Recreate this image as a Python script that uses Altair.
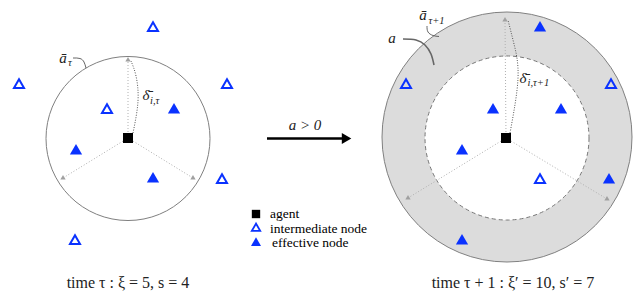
import altair as alt
import pandas as pd

# ---- diagram values (pixel-space coordinates of the reference) ----
left_center = [128, 132.5]
right_center = [507, 131]
inner_radius = 82
outer_radius = 125

agent_x = [128, 506]
agent_y = [132, 132]

left_open_x = [153, 19, 227, 107, 222, 75]
left_open_y = [22, 79, 79, 104, 174, 235]
left_eff_x = [174, 76, 153]
left_eff_y = [104, 145, 173]

right_open_x = [406, 611, 540]
right_open_y = [79, 79, 174]
right_eff_x = [540, 493, 561, 462, 609, 462]
right_eff_y = [22, 104, 104, 145, 174, 235]

# radial dotted arrows: start -> tip
arrow_id = ["l1", "l2", "l3", "r1", "r2", "r3"]
arrow_x0 = [128, 128, 128, 506, 506, 506]
arrow_y0 = [132, 132, 132, 132, 132, 132]
arrow_x1 = [128, 63, 193, 505, 408, 607]
arrow_y1 = [54, 172, 172, 14, 192, 193]
arrow_angle = [0, 240, 120, 0, 240, 120]

# curves (id, order, x, y)
curve_id = ["dl"] * 4 + ["dr"] * 4 + ["hl"] * 4 + ["hr"] * 4 + ["ca"] * 5
curve_x = [133, 138, 136, 131,
           510, 518, 514, 508,
           73, 80, 84, 86,
           427, 428, 433, 439,
           403, 416, 425, 431, 434]
curve_y = [127, 95, 70, 55,
           127, 72, 38, 14,
           52, 52.5, 56, 62,
           20, 26, 29.5, 30.5,
           33, 34, 39, 48, 59]

captions = ["time τ : ξ = 5, s = 4", "time τ + 1 : ξ′ = 10, s′ = 7"]
caption_x = [128, 513]
caption_y = [277, 277]

legend_labels = ["agent", "intermediate node", "effective node"]
legend_y = [208, 222.5, 237]

math_text = ["ā", "δ̄", "ā", "δ̄", "a", "a > 0"]
math_x = [63, 146, 423, 523, 392, 305]
math_y = [52, 89, 9, 72, 32, 119]
sub_text = ["τ", "i,τ", "τ+1", "i,τ+1"]
sub_x = [68, 150, 428.5, 527.5]
sub_y = [57, 95, 15, 77]

BLUE = "#0a32ff"
FONT = "Liberation Serif, Times New Roman, Times, serif"
xs = alt.Scale(domain=[8, 636], nice=False, zero=False)
ys = alt.Scale(domain=[289, 8], nice=False, zero=False)


def pos():
    return dict(x=alt.X("x:Q", scale=xs, axis=None), y=alt.Y("y:Q", scale=ys, axis=None))


def pts(xv, yv):
    return pd.DataFrame({"x": xv, "y": yv})


layers = []

# rings
layers.append(alt.Chart(pts([right_center[0]], [right_center[1]])).mark_point(
    shape="circle", size=(2 * outer_radius) ** 2, filled=True, fill="#dcdcdc",
    stroke="#808080", strokeWidth=1, opacity=1).encode(**pos()))
layers.append(alt.Chart(pts([right_center[0]], [right_center[1] + 1])).mark_point(
    shape="circle", size=(2 * inner_radius) ** 2, filled=True, fill="white",
    stroke="#777777", strokeWidth=1, strokeDash=[4, 3], opacity=1).encode(**pos()))
layers.append(alt.Chart(pts([left_center[0]], [left_center[1]])).mark_point(
    shape="circle", size=(2 * inner_radius) ** 2, filled=False,
    stroke="#808080", strokeWidth=1, opacity=1).encode(**pos()))

# dotted radial arrows
rows = []
for i, a in enumerate(arrow_id):
    rows.append({"id": a, "o": 0, "x": arrow_x0[i], "y": arrow_y0[i]})
    rows.append({"id": a, "o": 1, "x": arrow_x1[i], "y": arrow_y1[i]})
layers.append(alt.Chart(pd.DataFrame(rows)).mark_line(
    color="#b0b0b0", strokeWidth=1, strokeDash=[1, 2]).encode(
    **pos(), detail="id:N", order="o:Q"))
heads = pd.DataFrame({"x": arrow_x1, "y": arrow_y1, "ang": arrow_angle})
layers.append(alt.Chart(heads).mark_point(
    shape="triangle", size=28, filled=True, color="#a0a0a0", opacity=1).encode(
    **pos(), angle=alt.Angle("ang:Q", scale=None)))

# curves
cdf = pd.DataFrame({"id": curve_id, "x": curve_x, "y": curve_y})
cdf["o"] = cdf.groupby("id").cumcount()
layers.append(alt.Chart(cdf[cdf.id.isin(["dl", "dr"])]).mark_line(
    color="#555555", strokeWidth=1, strokeDash=[1, 1.5], interpolate="natural").encode(
    **pos(), detail="id:N", order="o:Q"))
layers.append(alt.Chart(cdf[cdf.id.isin(["hl", "hr"])]).mark_line(
    color="#555555", strokeWidth=0.9, interpolate="natural").encode(
    **pos(), detail="id:N", order="o:Q"))
layers.append(alt.Chart(cdf[cdf.id == "ca"]).mark_line(
    color="#666666", strokeWidth=1.6, interpolate="natural").encode(
    **pos(), detail="id:N", order="o:Q"))

# nodes
layers.append(alt.Chart(pts(left_open_x + right_open_x, left_open_y + right_open_y)).mark_point(
    shape="triangle", size=100, filled=False, stroke=BLUE, strokeWidth=2, opacity=1).encode(**pos()))
layers.append(alt.Chart(pts(left_eff_x + right_eff_x, left_eff_y + right_eff_y)).mark_point(
    shape="triangle", size=150, filled=True, color=BLUE, opacity=1).encode(**pos()))
layers.append(alt.Chart(pts(agent_x, agent_y)).mark_point(
    shape="square", size=100, filled=True, color="black", opacity=1).encode(**pos()))

# main arrow
layers.append(alt.Chart(pts([267, 343], [132.5, 132.5])).mark_line(
    color="black", strokeWidth=2.5).encode(**pos()))
layers.append(alt.Chart(pts([345], [132.5])).mark_point(
    shape="triangle", size=120, filled=True, color="black", opacity=1).encode(
    **pos(), angle=alt.value(90)))

# legend
layers.append(alt.Chart(pts([256], [legend_y[0]])).mark_point(
    shape="square", size=70, filled=True, color="black", opacity=1).encode(**pos()))
layers.append(alt.Chart(pts([256], [legend_y[1]])).mark_point(
    shape="triangle", size=70, filled=False, stroke=BLUE, strokeWidth=1.8, opacity=1).encode(**pos()))
layers.append(alt.Chart(pts([256], [legend_y[2]])).mark_point(
    shape="triangle", size=100, filled=True, color=BLUE, opacity=1).encode(**pos()))
leg = pd.DataFrame({"x": [270, 270, 272], "y": legend_y, "t": legend_labels})
layers.append(alt.Chart(leg).mark_text(
    align="left", baseline="middle", font=FONT, fontSize=13.5, color="black").encode(
    **pos(), text="t:N"))

# captions
cap = pd.DataFrame({"x": caption_x, "y": caption_y, "t": captions})
layers.append(alt.Chart(cap).mark_text(
    align="center", baseline="middle", font=FONT, fontSize=16, color="#222222").encode(
    **pos(), text="t:N"))

# math labels
mt = pd.DataFrame({"x": math_x, "y": math_y, "t": math_text})
layers.append(alt.Chart(mt).mark_text(
    align="center", baseline="middle", font=FONT, fontStyle="italic",
    fontSize=15, color="#222222").encode(**pos(), text="t:N"))
st = pd.DataFrame({"x": sub_x, "y": sub_y, "t": sub_text})
layers.append(alt.Chart(st).mark_text(
    align="left", baseline="middle", font=FONT, fontStyle="italic",
    fontSize=10.5, color="#222222").encode(**pos(), text="t:N"))

chart = alt.layer(*layers).properties(width=628, height=281, padding=0).configure_view(stroke=None)
chart.save("out.html", embed_options={"renderer": "svg", "actions": False})
